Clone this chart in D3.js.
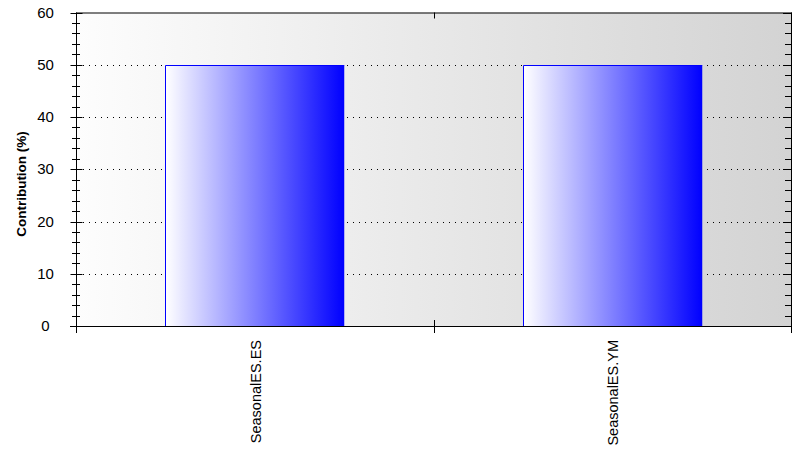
<!DOCTYPE html>
<html><head><meta charset="utf-8">
<script src="https://cdn.jsdelivr.net/npm/d3@7"></script>
<style>body{margin:0;background:#fff}svg{display:block}</style>
</head><body>
<script>
const categories = ["SeasonalES.ES", "SeasonalES.YM"];
const values = [50, 50];
const yTicks = [0, 10, 20, 30, 40, 50, 60];
const yTitle = "Contribution (%)";

const W = 812, H = 462;
const L = 76, R = 791, T = 12.5, B = 326;
const svg = d3.select("body").append("svg").attr("width", W).attr("height", H);
const defs = svg.append("defs");
const bg = defs.append("linearGradient").attr("id", "bg").attr("x1", "0").attr("x2", "1").attr("y1", "0").attr("y2", "0");
bg.append("stop").attr("offset", "0").attr("stop-color", "#fdfdfd");
bg.append("stop").attr("offset", "1").attr("stop-color", "#d3d3d3");
const bg2 = defs.append("linearGradient").attr("id", "bar").attr("x1", "0").attr("x2", "1").attr("y1", "0").attr("y2", "0");
bg2.append("stop").attr("offset", "0").attr("stop-color", "#ffffff");
bg2.append("stop").attr("offset", "1").attr("stop-color", "#0000ff");

const x = d3.scaleBand().domain(categories).range([L, R]).paddingInner(0.5).paddingOuter(0.25);
const y = d3.scaleLinear().domain([0, 60]).range([B, T]);

svg.append("rect").attr("x", L).attr("y", T).attr("width", R - L).attr("height", B - T).attr("fill", "url(#bg)");

// grid
svg.append("g").selectAll("line").data(yTicks.filter(d => d > 0 && d < 60)).join("line")
  .attr("x1", L + 1).attr("x2", R).attr("y1", d => Math.round(y(d)) + 0.5).attr("y2", d => Math.round(y(d)) + 0.5)
  .attr("stroke", "#000").attr("stroke-dasharray", "1,5");

// bars
const bars = svg.append("g").selectAll("g").data(categories).join("g");
bars.append("rect")
  .attr("x", d => Math.round(x(d)) + 0.5).attr("y", (d, i) => Math.round(y(values[i])) + 0.5)
  .attr("width", x.bandwidth()).attr("height", (d, i) => B - Math.round(y(values[i])) - 0.5)
  .attr("fill", "url(#bar)");
bars.append("path")
  .attr("d", (d, i) => {
    const x0 = Math.round(x(d)) + 0.5, y0 = Math.round(y(values[i])) + 0.5;
    return `M${x0},${B}V${y0}H${x0 + x.bandwidth()}`;
  })
  .attr("fill", "none").attr("stroke", "#0000ff").attr("stroke-width", 1);

// frame axes
const ax = svg.append("g").attr("stroke", "#000").attr("stroke-width", 1).attr("fill", "none");
ax.append("line").attr("x1", L + 0.5).attr("x2", L + 0.5).attr("y1", T).attr("y2", B + 7);
ax.append("line").attr("x1", R + 0.5).attr("x2", R + 0.5).attr("y1", T).attr("y2", B + 7);
ax.append("line").attr("x1", L - 6).attr("x2", R + 1).attr("y1", B + 0.5).attr("y2", B + 0.5);
ax.append("line").attr("x1", L).attr("x2", R + 1).attr("y1", T + 0.5).attr("y2", T + 0.5);

// y axis via d3
const yAxis = d3.axisLeft(y).tickValues(yTicks).tickSize(6).tickPadding(25);
const gy = svg.append("g").attr("transform", `translate(${L + 0.5},0)`).call(yAxis);
gy.select(".domain").remove();
gy.selectAll(".tick line").attr("x2", -6).attr("x1", 6);
gy.selectAll(".tick text").attr("text-anchor", "middle")
  .attr("font-family", "Arial, 'Liberation Sans', sans-serif").attr("font-size", 15).attr("fill", "#000");
gy.selectAll(".tick").attr("transform", d => `translate(0,${Math.round(y(d)) + 0.5})`);
// minor ticks
const minor = d3.range(0, 61, 2).filter(v => v % 10 !== 0);
svg.append("g").selectAll("line").data(minor).join("line")
  .attr("x1", L - 4).attr("x2", L + 4).attr("y1", d => Math.round(y(d)) + 0.5).attr("y2", d => Math.round(y(d)) + 0.5)
  .attr("stroke", "#000");
// right axis ticks
svg.append("g").selectAll("line").data(d3.range(0, 61, 2)).join("line")
  .attr("x1", d => d % 10 === 0 ? R - 8 : R - 6).attr("x2", R).attr("y1", d => Math.round(y(d)) + 0.5).attr("y2", d => Math.round(y(d)) + 0.5)
  .attr("stroke", "#000");

// category separator ticks
const mid = Math.round((x(categories[0]) + x.bandwidth() + x(categories[1])) / 2) + 0.5;
ax.append("line").attr("x1", mid).attr("x2", mid).attr("y1", B - 6).attr("y2", B + 7);
ax.append("line").attr("x1", mid).attr("x2", mid).attr("y1", T).attr("y2", T + 6);

// x labels
svg.append("g").selectAll("text").data(categories).join("text")
  .attr("transform", d => `translate(${x(d) + x.bandwidth() / 2 + 1},340) rotate(-90)`)
  .attr("text-anchor", "end").attr("dy", "0.35em")
  .attr("font-family", "Arial, 'Liberation Sans', sans-serif").attr("font-size", 14.5)
  .text(d => d);

// y title
svg.append("text").attr("transform", `translate(21,184) rotate(-90)`)
  .attr("text-anchor", "middle").attr("dy", "0.35em")
  .attr("font-family", "Arial, 'Liberation Sans', sans-serif").attr("font-size", 13.5).attr("font-weight", "bold")
  .text(yTitle);
</script>
</body></html>
